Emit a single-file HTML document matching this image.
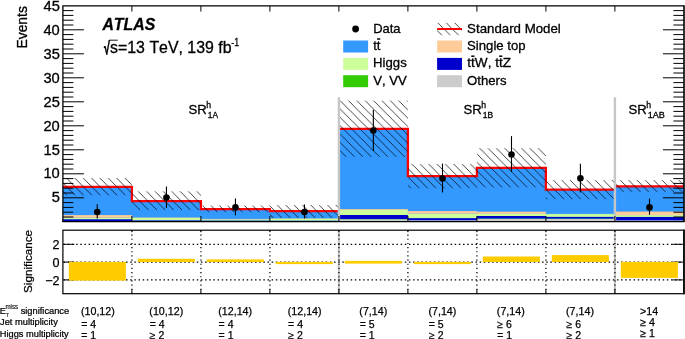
<!DOCTYPE html>
<html><head><meta charset="utf-8"><title>ATLAS SR1 yields</title>
<style>html,body{margin:0;padding:0;background:#fff}svg{display:block}</style></head>
<body>
<svg width="685" height="339" viewBox="0 0 685 339">
<defs>
<pattern id="hatch" patternUnits="userSpaceOnUse" x="5.38" y="0" width="8.36" height="8.36"><path d="M-1,-1 L9.36,9.36 M-9.36,-1 L1,9.36 M7.359999999999999,-1 L17.72,9.36" stroke="#000" stroke-width="0.72" fill="none"/></pattern>
</defs>
<rect width="685" height="339" fill="#fff"/>
<g id="stack">
<rect x="62.90" y="186.90" width="69.30" height="34.70" fill="#3399ff"/>
<rect x="62.90" y="219.20" width="69.30" height="2.40" fill="#0000cc"/>
<rect x="62.90" y="217.70" width="69.30" height="1.50" fill="#ccff99"/>
<rect x="62.90" y="215.10" width="69.30" height="2.60" fill="#ffcc99"/>
<rect x="131.90" y="201.20" width="69.30" height="20.40" fill="#3399ff"/>
<rect x="131.90" y="220.30" width="69.30" height="1.30" fill="#0000cc"/>
<rect x="131.90" y="217.90" width="69.30" height="2.40" fill="#ccff99"/>
<rect x="131.90" y="217.50" width="69.30" height="0.40" fill="#ffcc99"/>
<rect x="200.90" y="209.10" width="69.30" height="12.50" fill="#3399ff"/>
<rect x="200.90" y="220.50" width="69.30" height="1.10" fill="#0000cc"/>
<rect x="200.90" y="219.30" width="69.30" height="1.20" fill="#ccff99"/>
<rect x="200.90" y="218.90" width="69.30" height="0.40" fill="#ffcc99"/>
<rect x="269.90" y="211.20" width="69.30" height="10.40" fill="#3399ff"/>
<rect x="269.90" y="220.60" width="69.30" height="1.00" fill="#0000cc"/>
<rect x="269.90" y="218.60" width="69.30" height="2.00" fill="#ccff99"/>
<rect x="269.90" y="218.30" width="69.30" height="0.30" fill="#ffcc99"/>
<rect x="338.90" y="128.80" width="69.30" height="92.80" fill="#3399ff"/>
<rect x="338.90" y="219.50" width="69.30" height="2.10" fill="#cccccc"/>
<rect x="338.90" y="219.00" width="69.30" height="0.50" fill="#99e066"/>
<rect x="338.90" y="215.00" width="69.30" height="4.00" fill="#0000cc"/>
<rect x="338.90" y="209.80" width="69.30" height="5.20" fill="#ccff99"/>
<rect x="338.90" y="209.00" width="69.30" height="0.80" fill="#ffcc99"/>
<rect x="407.90" y="176.20" width="69.30" height="45.40" fill="#3399ff"/>
<rect x="407.90" y="220.20" width="69.30" height="1.40" fill="#cccccc"/>
<rect x="407.90" y="218.10" width="69.30" height="2.10" fill="#0000cc"/>
<rect x="407.90" y="213.60" width="69.30" height="4.50" fill="#ccff99"/>
<rect x="407.90" y="211.10" width="69.30" height="2.50" fill="#ffcc99"/>
<rect x="476.90" y="167.90" width="69.30" height="53.70" fill="#3399ff"/>
<rect x="476.90" y="218.80" width="69.30" height="2.80" fill="#cccccc"/>
<rect x="476.90" y="218.40" width="69.30" height="0.40" fill="#33cc00"/>
<rect x="476.90" y="216.00" width="69.30" height="2.40" fill="#0000cc"/>
<rect x="476.90" y="213.90" width="69.30" height="2.10" fill="#ccff99"/>
<rect x="476.90" y="211.70" width="69.30" height="2.20" fill="#ffcc99"/>
<rect x="545.90" y="189.70" width="69.30" height="31.90" fill="#3399ff"/>
<rect x="545.90" y="219.00" width="69.30" height="2.60" fill="#cccccc"/>
<rect x="545.90" y="218.50" width="69.30" height="0.50" fill="#33cc00"/>
<rect x="545.90" y="216.80" width="69.30" height="1.70" fill="#0000cc"/>
<rect x="545.90" y="214.10" width="69.30" height="2.70" fill="#ccff99"/>
<rect x="545.90" y="213.90" width="69.30" height="0.20" fill="#ffcc99"/>
<rect x="614.90" y="186.30" width="69.30" height="35.30" fill="#3399ff"/>
<rect x="614.90" y="220.30" width="69.30" height="1.30" fill="#cccccc"/>
<rect x="614.90" y="216.90" width="69.30" height="3.40" fill="#0000cc"/>
<rect x="614.90" y="215.10" width="69.30" height="1.80" fill="#ccff99"/>
<rect x="614.90" y="211.60" width="69.30" height="3.50" fill="#ffcc99"/>
</g>
<path d="M62.90,186.90 L131.90,186.90 L131.90,201.20 L200.90,201.20 L200.90,209.10 L269.90,209.10 L269.90,211.20 L337.90,211.20 M339.90,128.80 L407.90,128.80 L407.90,176.20 L476.90,176.20 L476.90,167.90 L545.90,167.90 L545.90,189.70 L613.90,189.70 M615.90,186.30 L683.90,186.30" fill="none" stroke="#ff0000" stroke-width="2.3" stroke-linejoin="miter"/>
<g id="unc">
<rect x="62.90" y="178.00" width="69.00" height="17.30" fill="url(#hatch)"/>
<rect x="131.90" y="191.30" width="69.00" height="18.70" fill="url(#hatch)"/>
<rect x="200.90" y="205.50" width="69.00" height="6.70" fill="url(#hatch)"/>
<rect x="269.90" y="205.00" width="69.00" height="12.90" fill="url(#hatch)"/>
<rect x="338.90" y="100.60" width="69.00" height="56.20" fill="url(#hatch)"/>
<rect x="407.90" y="164.00" width="69.00" height="24.20" fill="url(#hatch)"/>
<rect x="476.90" y="148.20" width="69.00" height="39.30" fill="url(#hatch)"/>
<rect x="545.90" y="180.10" width="69.00" height="19.10" fill="url(#hatch)"/>
<rect x="614.90" y="180.10" width="69.00" height="11.80" fill="url(#hatch)"/>
</g>
<line x1="338.90" y1="97.2" x2="338.90" y2="221.60" stroke="#c6c6c6" stroke-width="2.4"/>
<line x1="338.90" y1="230.2" x2="338.90" y2="293.7" stroke="#c6c6c6" stroke-width="2.2"/>
<line x1="614.90" y1="97.2" x2="614.90" y2="221.60" stroke="#c6c6c6" stroke-width="2.4"/>
<line x1="614.90" y1="230.2" x2="614.90" y2="293.7" stroke="#c6c6c6" stroke-width="2.2"/>
<path d="M62.90,217.00 h10.5 M683.90,217.00 h-10.5 M62.90,212.20 h10.5 M683.90,212.20 h-10.5 M62.90,207.40 h10.5 M683.90,207.40 h-10.5 M62.90,202.60 h10.5 M683.90,202.60 h-10.5 M62.90,197.80 h21 M683.90,197.80 h-21 M62.90,193.00 h10.5 M683.90,193.00 h-10.5 M62.90,188.20 h10.5 M683.90,188.20 h-10.5 M62.90,183.40 h10.5 M683.90,183.40 h-10.5 M62.90,178.60 h10.5 M683.90,178.60 h-10.5 M62.90,173.80 h21 M683.90,173.80 h-21 M62.90,169.00 h10.5 M683.90,169.00 h-10.5 M62.90,164.20 h10.5 M683.90,164.20 h-10.5 M62.90,159.40 h10.5 M683.90,159.40 h-10.5 M62.90,154.60 h10.5 M683.90,154.60 h-10.5 M62.90,149.80 h21 M683.90,149.80 h-21 M62.90,145.00 h10.5 M683.90,145.00 h-10.5 M62.90,140.20 h10.5 M683.90,140.20 h-10.5 M62.90,135.40 h10.5 M683.90,135.40 h-10.5 M62.90,130.60 h10.5 M683.90,130.60 h-10.5 M62.90,125.80 h21 M683.90,125.80 h-21 M62.90,121.00 h10.5 M683.90,121.00 h-10.5 M62.90,116.20 h10.5 M683.90,116.20 h-10.5 M62.90,111.40 h10.5 M683.90,111.40 h-10.5 M62.90,106.60 h10.5 M683.90,106.60 h-10.5 M62.90,101.80 h21 M683.90,101.80 h-21 M62.90,97.00 h10.5 M683.90,97.00 h-10.5 M62.90,92.20 h10.5 M683.90,92.20 h-10.5 M62.90,87.40 h10.5 M683.90,87.40 h-10.5 M62.90,82.60 h10.5 M683.90,82.60 h-10.5 M62.90,77.80 h21 M683.90,77.80 h-21 M62.90,73.00 h10.5 M683.90,73.00 h-10.5 M62.90,68.20 h10.5 M683.90,68.20 h-10.5 M62.90,63.40 h10.5 M683.90,63.40 h-10.5 M62.90,58.60 h10.5 M683.90,58.60 h-10.5 M62.90,53.80 h21 M683.90,53.80 h-21 M62.90,49.00 h10.5 M683.90,49.00 h-10.5 M62.90,44.20 h10.5 M683.90,44.20 h-10.5 M62.90,39.40 h10.5 M683.90,39.40 h-10.5 M62.90,34.60 h10.5 M683.90,34.60 h-10.5 M62.90,29.80 h21 M683.90,29.80 h-21 M62.90,25.00 h10.5 M683.90,25.00 h-10.5 M62.90,20.20 h10.5 M683.90,20.20 h-10.5 M62.90,15.40 h10.5 M683.90,15.40 h-10.5 M62.90,10.60 h10.5 M683.90,10.60 h-10.5" stroke="#000" stroke-width="1.0" fill="none"/>
<path d="M131.90,221.60 v-5.6 M131.90,5.95 v5.6 M200.90,221.60 v-5.6 M200.90,5.95 v5.6 M269.90,221.60 v-5.6 M269.90,5.95 v5.6 M338.90,221.60 v-5.6 M338.90,5.95 v5.6 M407.90,221.60 v-5.6 M407.90,5.95 v5.6 M476.90,221.60 v-5.6 M476.90,5.95 v5.6 M545.90,221.60 v-5.6 M545.90,5.95 v5.6 M614.90,221.60 v-5.6 M614.90,5.95 v5.6" stroke="#000" stroke-width="1.0" fill="none"/>
<path d="M62.90,222.10 V5.95 H683.90" fill="none" stroke="#000" stroke-width="1.3" stroke-linejoin="miter"/>
<line x1="684.00" y1="5.30" x2="684.00" y2="222.10" stroke="#000" stroke-width="1.6"/>
<line x1="62.15" y1="221.60" x2="684.65" y2="221.60" stroke="#000" stroke-width="1.05"/>
<g id="data">
<line x1="97.25" y1="204.30" x2="97.25" y2="218.50" stroke="#000" stroke-width="1.1"/>
<circle cx="97.25" cy="212.00" r="3.3" fill="#000"/>
<line x1="166.45" y1="186.40" x2="166.45" y2="207.90" stroke="#000" stroke-width="1.1"/>
<circle cx="166.45" cy="197.60" r="3.3" fill="#000"/>
<line x1="235.45" y1="198.50" x2="235.45" y2="215.30" stroke="#000" stroke-width="1.1"/>
<circle cx="235.45" cy="207.40" r="3.3" fill="#000"/>
<line x1="304.45" y1="204.50" x2="304.45" y2="218.40" stroke="#000" stroke-width="1.1"/>
<circle cx="304.45" cy="212.00" r="3.3" fill="#000"/>
<line x1="373.35" y1="109.80" x2="373.35" y2="151.10" stroke="#000" stroke-width="1.1"/>
<circle cx="373.35" cy="130.60" r="3.3" fill="#000"/>
<line x1="442.50" y1="163.60" x2="442.50" y2="192.50" stroke="#000" stroke-width="1.1"/>
<circle cx="442.50" cy="178.50" r="3.3" fill="#000"/>
<line x1="511.50" y1="136.10" x2="511.50" y2="171.80" stroke="#000" stroke-width="1.1"/>
<circle cx="511.50" cy="154.50" r="3.3" fill="#000"/>
<line x1="580.40" y1="163.85" x2="580.40" y2="192.60" stroke="#000" stroke-width="1.1"/>
<circle cx="580.40" cy="178.30" r="3.3" fill="#000"/>
<line x1="649.50" y1="198.50" x2="649.50" y2="214.80" stroke="#000" stroke-width="1.1"/>
<circle cx="649.50" cy="207.40" r="3.3" fill="#000"/>
</g>
<g id="labels" font-family="'Liberation Sans', sans-serif" fill="#000" stroke="#000" stroke-width="0.3" style="font-kerning:none">
<text transform="translate(51.64,202.35) scale(1.0000,1)" font-size="14.7">5</text>
<text transform="translate(43.42,178.45) scale(1.0000,1)" font-size="14.7">10</text>
<text transform="translate(43.47,154.55) scale(1.0000,1)" font-size="14.7">15</text>
<text transform="translate(43.42,130.65) scale(1.0000,1)" font-size="14.7">20</text>
<text transform="translate(43.47,106.75) scale(1.0000,1)" font-size="14.7">25</text>
<text transform="translate(43.42,82.85) scale(1.0000,1)" font-size="14.7">30</text>
<text transform="translate(43.47,58.95) scale(1.0000,1)" font-size="14.7">35</text>
<text transform="translate(43.42,35.05) scale(1.0000,1)" font-size="14.7">40</text>
<text transform="translate(43.47,11.15) scale(1.0000,1)" font-size="14.7">45</text>
<text transform="translate(27.40,48.54) rotate(-90) scale(0.9641,1)" font-size="14.4">Events</text>
<text transform="translate(102.43,30.10) scale(0.9217,1)" font-size="17.2" font-weight="bold" font-style="italic">ATLAS</text>
<text transform="translate(110.06,53.20) scale(0.9943,1)" font-size="16.0">s=13 TeV, 139 fb</text>
<text transform="translate(231.31,46.10) scale(0.8297,1)" font-size="10.6">-1</text>
<text transform="translate(103.89,54.20) scale(0.5983,1)" font-size="17.6" font-weight="bold" stroke-width="0.7">√</text>
<line x1="109.0" y1="40.2" x2="117.8" y2="40.2" stroke="#000" stroke-width="0.9"/>
<text transform="translate(188.50,113.80) scale(0.9779,1)" font-size="13.4">SR</text>
<text transform="translate(206.30,107.60) scale(1.0000,1)" font-size="8.7">h</text>
<text transform="translate(207.77,118.20) scale(0.9647,1)" font-size="8.6">1A</text>
<text transform="translate(463.50,113.80) scale(0.9779,1)" font-size="13.4">SR</text>
<text transform="translate(481.30,107.60) scale(1.0000,1)" font-size="8.7">h</text>
<text transform="translate(482.75,118.20) scale(0.9883,1)" font-size="8.6">1B</text>
<text transform="translate(628.50,113.80) scale(0.9779,1)" font-size="13.4">SR</text>
<text transform="translate(646.30,107.60) scale(1.0000,1)" font-size="8.7">h</text>
<text transform="translate(647.71,118.20) scale(1.0497,1)" font-size="8.6">1AB</text>
<circle cx="355.6" cy="29.0" r="3.4" fill="#000" stroke="none"/>
<text transform="translate(373.13,32.90) scale(0.9888,1)" font-size="13.15">Data</text>
<rect x="343.2" y="40.50" width="24.9" height="12.0" fill="#3399ff" stroke="none"/>
<rect x="343.2" y="57.90" width="24.9" height="12.0" fill="#ccff99" stroke="none"/>
<text transform="translate(373.12,67.10) scale(1.0000,1)" font-size="13.15">Higgs</text>
<rect x="343.2" y="75.20" width="24.9" height="12.0" fill="#33cc00" stroke="none"/>
<text transform="translate(373.14,84.90) scale(1.0000,1)" font-size="13.15">V, VV</text>
<text transform="translate(373.20,50.00) scale(1.0000,1)" font-size="13.15">tt</text>
<line x1="377.05" y1="39.00" x2="380.25" y2="39.00" stroke="#000" stroke-width="1.5"/>
<rect x="437.1" y="22.80" width="24.9" height="12.4" fill="url(#hatch)" stroke="none"/>
<line x1="437.1" y1="29.0" x2="462.0" y2="29.0" stroke="#ff0000" stroke-width="2"/>
<text transform="translate(467.10,32.90) scale(1.0103,1)" font-size="13.15">Standard Model</text>
<rect x="437.1" y="40.50" width="24.9" height="12.0" fill="#ffcc99" stroke="none"/>
<text transform="translate(467.10,49.60) scale(1.0000,1)" font-size="13.15">Single top</text>
<rect x="437.1" y="57.90" width="24.9" height="12.0" fill="#0000cc" stroke="none"/>
<rect x="437.1" y="75.20" width="24.9" height="12.0" fill="#cccccc" stroke="none"/>
<text transform="translate(467.08,84.90) scale(1.0000,1)" font-size="13.15">Others</text>
<text transform="translate(467.29,67.20) scale(1.0322,1)" font-size="13.15">ttW, ttZ</text>
<line x1="471.27" y1="56.20" x2="474.47" y2="56.20" stroke="#000" stroke-width="1.5"/>
<line x1="499.16" y1="56.20" x2="502.36" y2="56.20" stroke="#000" stroke-width="1.5"/>
</g>
<line x1="62.90" y1="279.90" x2="683.90" y2="279.90" stroke="#000" stroke-width="1.15" stroke-dasharray="1.5 2.66" stroke-dashoffset="-0.75"/>
<path d="M62.90,279.90 h11.5 M683.90,279.90 h-11.5" stroke="#000" stroke-width="1"/>
<line x1="62.90" y1="262.10" x2="683.90" y2="262.10" stroke="#000" stroke-width="1.15" stroke-dasharray="1.5 2.66" stroke-dashoffset="-0.75"/>
<path d="M62.90,262.10 h11.5 M683.90,262.10 h-11.5" stroke="#000" stroke-width="1"/>
<line x1="62.90" y1="244.30" x2="683.90" y2="244.30" stroke="#000" stroke-width="1.15" stroke-dasharray="1.5 2.66" stroke-dashoffset="-0.75"/>
<path d="M62.90,244.30 h11.5 M683.90,244.30 h-11.5" stroke="#000" stroke-width="1"/>
<line x1="131.90" y1="230.2" x2="131.90" y2="293.7" stroke="#262626" stroke-width="1.5" stroke-dasharray="1.15 3.01" stroke-dashoffset="-0.2"/>
<path d="M131.90,293.7 v-4.5 M131.90,230.2 v2" stroke="#000" stroke-width="1"/>
<line x1="200.90" y1="230.2" x2="200.90" y2="293.7" stroke="#262626" stroke-width="1.5" stroke-dasharray="1.15 3.01" stroke-dashoffset="-0.2"/>
<path d="M200.90,293.7 v-4.5 M200.90,230.2 v2" stroke="#000" stroke-width="1"/>
<line x1="269.90" y1="230.2" x2="269.90" y2="293.7" stroke="#262626" stroke-width="1.5" stroke-dasharray="1.15 3.01" stroke-dashoffset="-0.2"/>
<path d="M269.90,293.7 v-4.5 M269.90,230.2 v2" stroke="#000" stroke-width="1"/>
<line x1="338.90" y1="230.2" x2="338.90" y2="293.7" stroke="#262626" stroke-width="1.5" stroke-dasharray="1.15 3.01" stroke-dashoffset="-0.2"/>
<path d="M338.90,293.7 v-4.5 M338.90,230.2 v2" stroke="#000" stroke-width="1"/>
<line x1="407.90" y1="230.2" x2="407.90" y2="293.7" stroke="#262626" stroke-width="1.5" stroke-dasharray="1.15 3.01" stroke-dashoffset="-0.2"/>
<path d="M407.90,293.7 v-4.5 M407.90,230.2 v2" stroke="#000" stroke-width="1"/>
<line x1="476.90" y1="230.2" x2="476.90" y2="293.7" stroke="#262626" stroke-width="1.5" stroke-dasharray="1.15 3.01" stroke-dashoffset="-0.2"/>
<path d="M476.90,293.7 v-4.5 M476.90,230.2 v2" stroke="#000" stroke-width="1"/>
<line x1="545.90" y1="230.2" x2="545.90" y2="293.7" stroke="#262626" stroke-width="1.5" stroke-dasharray="1.15 3.01" stroke-dashoffset="-0.2"/>
<path d="M545.90,293.7 v-4.5 M545.90,230.2 v2" stroke="#000" stroke-width="1"/>
<line x1="614.90" y1="230.2" x2="614.90" y2="293.7" stroke="#262626" stroke-width="1.5" stroke-dasharray="1.15 3.01" stroke-dashoffset="-0.2"/>
<path d="M614.90,293.7 v-4.5 M614.90,230.2 v2" stroke="#000" stroke-width="1"/>
<g id="signif">
<rect x="68.80" y="261.90" width="57.1" height="18.70" fill="#ffcc00"/>
<rect x="137.80" y="258.80" width="57.1" height="3.20" fill="#ffcc00"/>
<rect x="206.80" y="259.40" width="57.1" height="2.60" fill="#ffcc00"/>
<rect x="275.80" y="261.90" width="57.1" height="2.20" fill="#ffcc00"/>
<rect x="344.80" y="260.90" width="57.1" height="2.70" fill="#ffcc00"/>
<rect x="413.80" y="261.90" width="57.1" height="2.20" fill="#ffcc00"/>
<rect x="482.80" y="256.50" width="57.1" height="5.50" fill="#ffcc00"/>
<rect x="551.80" y="255.10" width="57.1" height="6.90" fill="#ffcc00"/>
<rect x="620.80" y="261.90" width="57.1" height="16.00" fill="#ffcc00"/>
</g>
<rect x="62.90" y="230.2" width="621.00" height="63.50" fill="none" stroke="#000" stroke-width="1.2"/>
<line x1="684.00" y1="229.60" x2="684.00" y2="294.30" stroke="#000" stroke-width="1.6"/>
<g id="labels2" font-family="'Liberation Sans', sans-serif" fill="#000" stroke="#000" stroke-width="0.25" style="font-kerning:none">
<text transform="translate(52.53,249.30) scale(1.0000,1)" font-size="12.6">2</text>
<text transform="translate(52.38,267.10) scale(1.0000,1)" font-size="12.6">0</text>
<text transform="translate(45.17,284.90) scale(1.0000,1)" font-size="12.6">−2</text>
<text transform="translate(32.40,292.93) rotate(-90) scale(1.0010,1)" font-size="11.7">Significance</text>
<text transform="translate(-0.36,313.70) scale(0.9511,1)" font-size="9.7">E</text>
<text transform="translate(5.88,316.50) scale(0.8272,1)" font-size="6.2" stroke-width="0.1">T</text>
<text transform="translate(5.39,308.80) scale(0.9917,1)" font-size="6.3" stroke-width="0.1">miss</text>
<text transform="translate(20.64,313.70) scale(0.9683,1)" font-size="9.6">significance</text>
<text transform="translate(0.05,324.70) scale(0.9668,1)" font-size="9.6">Jet multiplicity</text>
<text transform="translate(-0.26,337.20) scale(0.9649,1)" font-size="9.6">Higgs multiplicity</text>
<text transform="translate(80.94,314.90) scale(1.0000,1)" font-size="10.7">(10,12)</text>
<text transform="translate(81.29,327.80) scale(1.0000,1)" font-size="10.5">= 4</text>
<text transform="translate(81.29,338.70) scale(1.0000,1)" font-size="10.5">= 1</text>
<text transform="translate(149.34,314.90) scale(1.0000,1)" font-size="10.7">(10,12)</text>
<text transform="translate(149.69,327.80) scale(1.0000,1)" font-size="10.5">= 4</text>
<text transform="translate(149.87,338.70) scale(1.0000,1)" font-size="10.5">≥ 2</text>
<text transform="translate(218.24,314.90) scale(1.0000,1)" font-size="10.7">(12,14)</text>
<text transform="translate(218.59,327.80) scale(1.0000,1)" font-size="10.5">= 4</text>
<text transform="translate(218.59,338.70) scale(1.0000,1)" font-size="10.5">= 1</text>
<text transform="translate(287.74,314.90) scale(1.0000,1)" font-size="10.7">(12,14)</text>
<text transform="translate(288.09,327.80) scale(1.0000,1)" font-size="10.5">= 4</text>
<text transform="translate(288.27,338.70) scale(1.0000,1)" font-size="10.5">≥ 2</text>
<text transform="translate(359.34,314.90) scale(1.0000,1)" font-size="10.7">(7,14)</text>
<text transform="translate(359.69,327.80) scale(1.0000,1)" font-size="10.5">= 5</text>
<text transform="translate(359.69,338.70) scale(1.0000,1)" font-size="10.5">= 1</text>
<text transform="translate(428.44,314.90) scale(1.0000,1)" font-size="10.7">(7,14)</text>
<text transform="translate(428.79,327.80) scale(1.0000,1)" font-size="10.5">= 5</text>
<text transform="translate(428.97,338.70) scale(1.0000,1)" font-size="10.5">≥ 2</text>
<text transform="translate(496.84,314.90) scale(1.0000,1)" font-size="10.7">(7,14)</text>
<text transform="translate(497.37,327.80) scale(1.0000,1)" font-size="10.5">≥ 6</text>
<text transform="translate(497.19,338.70) scale(1.0000,1)" font-size="10.5">= 1</text>
<text transform="translate(566.04,314.90) scale(1.0000,1)" font-size="10.7">(7,14)</text>
<text transform="translate(566.57,327.80) scale(1.0000,1)" font-size="10.5">≥ 6</text>
<text transform="translate(566.57,338.70) scale(1.0000,1)" font-size="10.5">≥ 2</text>
<text transform="translate(639.97,314.50) scale(1.0000,1)" font-size="10.7">&gt;14</text>
<text transform="translate(640.16,325.80) scale(1.0000,1)" font-size="10.7">≥ 4</text>
<text transform="translate(640.16,336.70) scale(1.0000,1)" font-size="10.7">≥ 1</text>
</g>
</svg>
</body></html>
